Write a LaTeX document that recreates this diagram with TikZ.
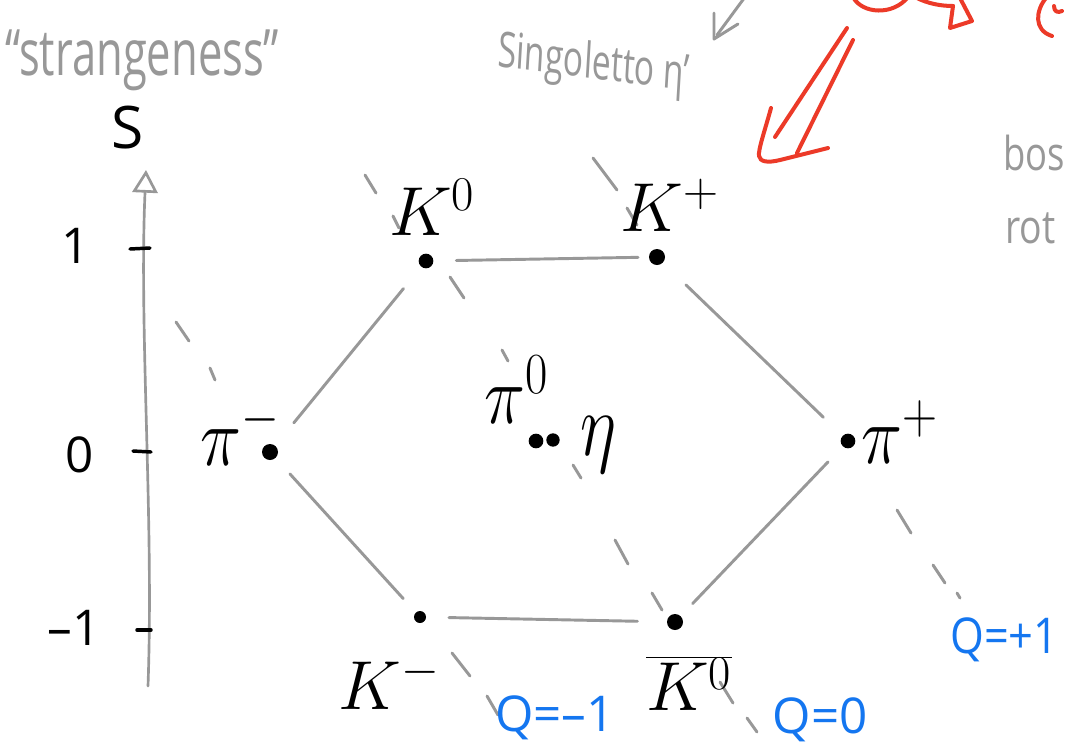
\RequirePackage{fix-cm}
\documentclass[tikz,border=0pt]{standalone}
\usepackage{fontspec}
\setsansfont{Open Sans}
\usetikzlibrary{arrows.meta,calc}
\definecolor{pgray}{RGB}{152,152,152}
\definecolor{pred}{RGB}{236,58,40}
\definecolor{pblue}{RGB}{20,118,240}
\begin{document}
\begin{tikzpicture}[x=0.75pt,y=-0.75pt,line cap=round,line join=round,
  edge/.style={draw=pgray,line width=2.2pt},
  qdash/.style={draw=pgray,line width=2.2pt},
  meson/.style={circle,fill=black,inner sep=0pt,minimum size=11pt},
  plabel/.style={inner sep=0pt,font=\fontsize{52}{52}\selectfont},
  handgray/.style={inner sep=0pt,text=pgray,font=\sffamily\fontsize{35}{35}\selectfont},
  qlabel/.style={inner sep=0pt,text=pblue,font=\sffamily\fontsize{37}{37}\selectfont},
  axnum/.style={inner sep=0pt,font=\sffamily\fontsize{37}{37}\selectfont},
  axtick/.style={draw=black,line width=2.6pt},
  axisline/.style={draw=pgray,line width=2pt},
  redstroke/.style={draw=pred,line width=3pt}]
\useasboundingbox (0,0) rectangle (1065,744);
\fill[white] (0,0) rectangle (1065,744);

% strangeness axis
\coordinate (axbot) at (148,686);
\coordinate (axtop) at (146,170);
\draw[axisline,-{Triangle[open,length=17pt,width=19pt,line width=2pt]}] (axbot) .. controls (154,520) and (139,330) .. (axtop);
\draw[axtick] (130,249) -- (150,248);
\draw[axtick] (133,451) -- (151,452);
\draw[axtick] (137,630) -- (151,630);
\node[axnum] (s1) at (76,246) {1};
\node[axnum] (s0) at (80,455) {0};
\node[axnum] (sm1) at (74,628) {–1};
\node[inner sep=0pt,font=\sffamily\fontsize{44}{44}\selectfont] (Slab) at (128,128) {S};

% charge lines (dashed extensions)
\draw[qdash] (176,322)--(189,341) (210,368)--(215,380)
  (452,653)--(470,676) (487,696)--(498,715);
\draw[qdash] (365,175)--(376,193) (393,216)--(399,228)
  (450,277)--(464,298) (502,350)--(508,361) (573,465)--(581,478)
  (615,540)--(628,564) (652,593)--(662,610)
  (720,682)--(733,703) (747,718)--(757,732);
\draw[qdash] (593,158)--(617,190) (627,208)--(637,225)
  (897,510)--(911,533) (933,565)--(945,583) (957,593)--(960,598);

% mesons
\node[meson] (K0) at (426,261) {};
\node[meson,minimum size=12pt] (Kp) at (657,257) {};
\node[meson,minimum size=12pt] (pim) at (270,452) {};
\node[meson] (pip) at (848,441) {};
\node[meson,minimum size=9pt] (Km) at (420,617) {};
\node[meson,minimum size=12pt] (K0b) at (675,622) {};
\node[meson,minimum size=11pt] (pi0) at (536,441) {};
\node[meson,minimum size=10pt] (eta) at (553,440) {};

% octet edges
\draw[edge,shorten <=17pt,shorten >=8pt] (K0) -- (Kp);
\draw[edge,shorten <=24pt,shorten >=20pt] (Kp) -- (pip);
\draw[edge,shorten <=16pt,shorten >=13pt] (pip) -- (K0b);
\draw[edge,shorten <=22pt,shorten >=17pt] (K0b) -- (Km);
\draw[edge,shorten <=14pt,shorten >=16pt] (Km) -- (pim);
\draw[edge,shorten <=22pt,shorten >=21pt] (pim) -- (K0);

% meson labels
\node[plabel] (lK0) at (432,207) {$K^0$};
\node[plabel] (lKp) at (670,205) {$K^+$};
\node[plabel,yscale=1.2] (lpim) at (240,433) {$\pi^-$};
\node[plabel,yscale=1.2] (lpip) at (900,432) {$\pi^+$};
\node[plabel,yscale=1.2] (lpi0) at (516,390) {$\pi^0$};
\node[plabel,yscale=1.3] (leta) at (598,445) {$\eta$};
\node[plabel] (lKm) at (389,683) {$K^-$};
\node[plabel] (lK0b) at (689,683) {$\overline{K^0}$};

% charge labels
\node[qlabel] (qm1) at (555,718) {Q=–1};
\node[qlabel] (q0) at (820,720) {Q=0};
\node[qlabel,anchor=west,xscale=0.88] (qp1) at (950,640) {Q=+1};

% gray handwriting
\node[handgray,font=\sffamily\fontsize{48}{48}\selectfont,anchor=base west,xscale=0.68] (strange) at (5,75) {“strangeness”};
\node[handgray,font=\sffamily\fontsize{37}{37}\selectfont,anchor=base west,xscale=0.68,rotate=-5] (singl) at (497,66) {Singoletto η'};
\node[handgray,anchor=base west,xscale=0.78] (bos) at (1003,170) {bos};
\node[handgray,anchor=base west,xscale=0.8] (rot) at (1005,243) {rot};
\draw[pgray,line width=2.2pt] (745,-3) -- (717,35);
\draw[pgray,line width=2.2pt] (714,13) -- (714,39) -- (738,24);

% red strokes
\draw[redstroke] (847,28) -- (775,137);
\draw[redstroke] (853,40) -- (797,153);
\draw[redstroke] (771,108) .. controls (765,130) and (758,150) .. (759,156) .. controls (760,162) and (768,163) .. (780,160) -- (828,148);
\draw[redstroke] (853,-3) .. controls (862,14) and (893,16) .. (908,-3);
\draw[redstroke] (915,-3) .. controls (928,4) and (942,6) .. (953,6);
\draw[redstroke] (960,-2) -- (972,21) -- (950,28) -- (953,6);
\draw[redstroke] (1046,-2) .. controls (1036,10) and (1033,30) .. (1052,36);
\draw[redstroke] (1054,6) .. controls (1054,12) and (1058,13) .. (1062,11);
\end{tikzpicture}
\end{document}
